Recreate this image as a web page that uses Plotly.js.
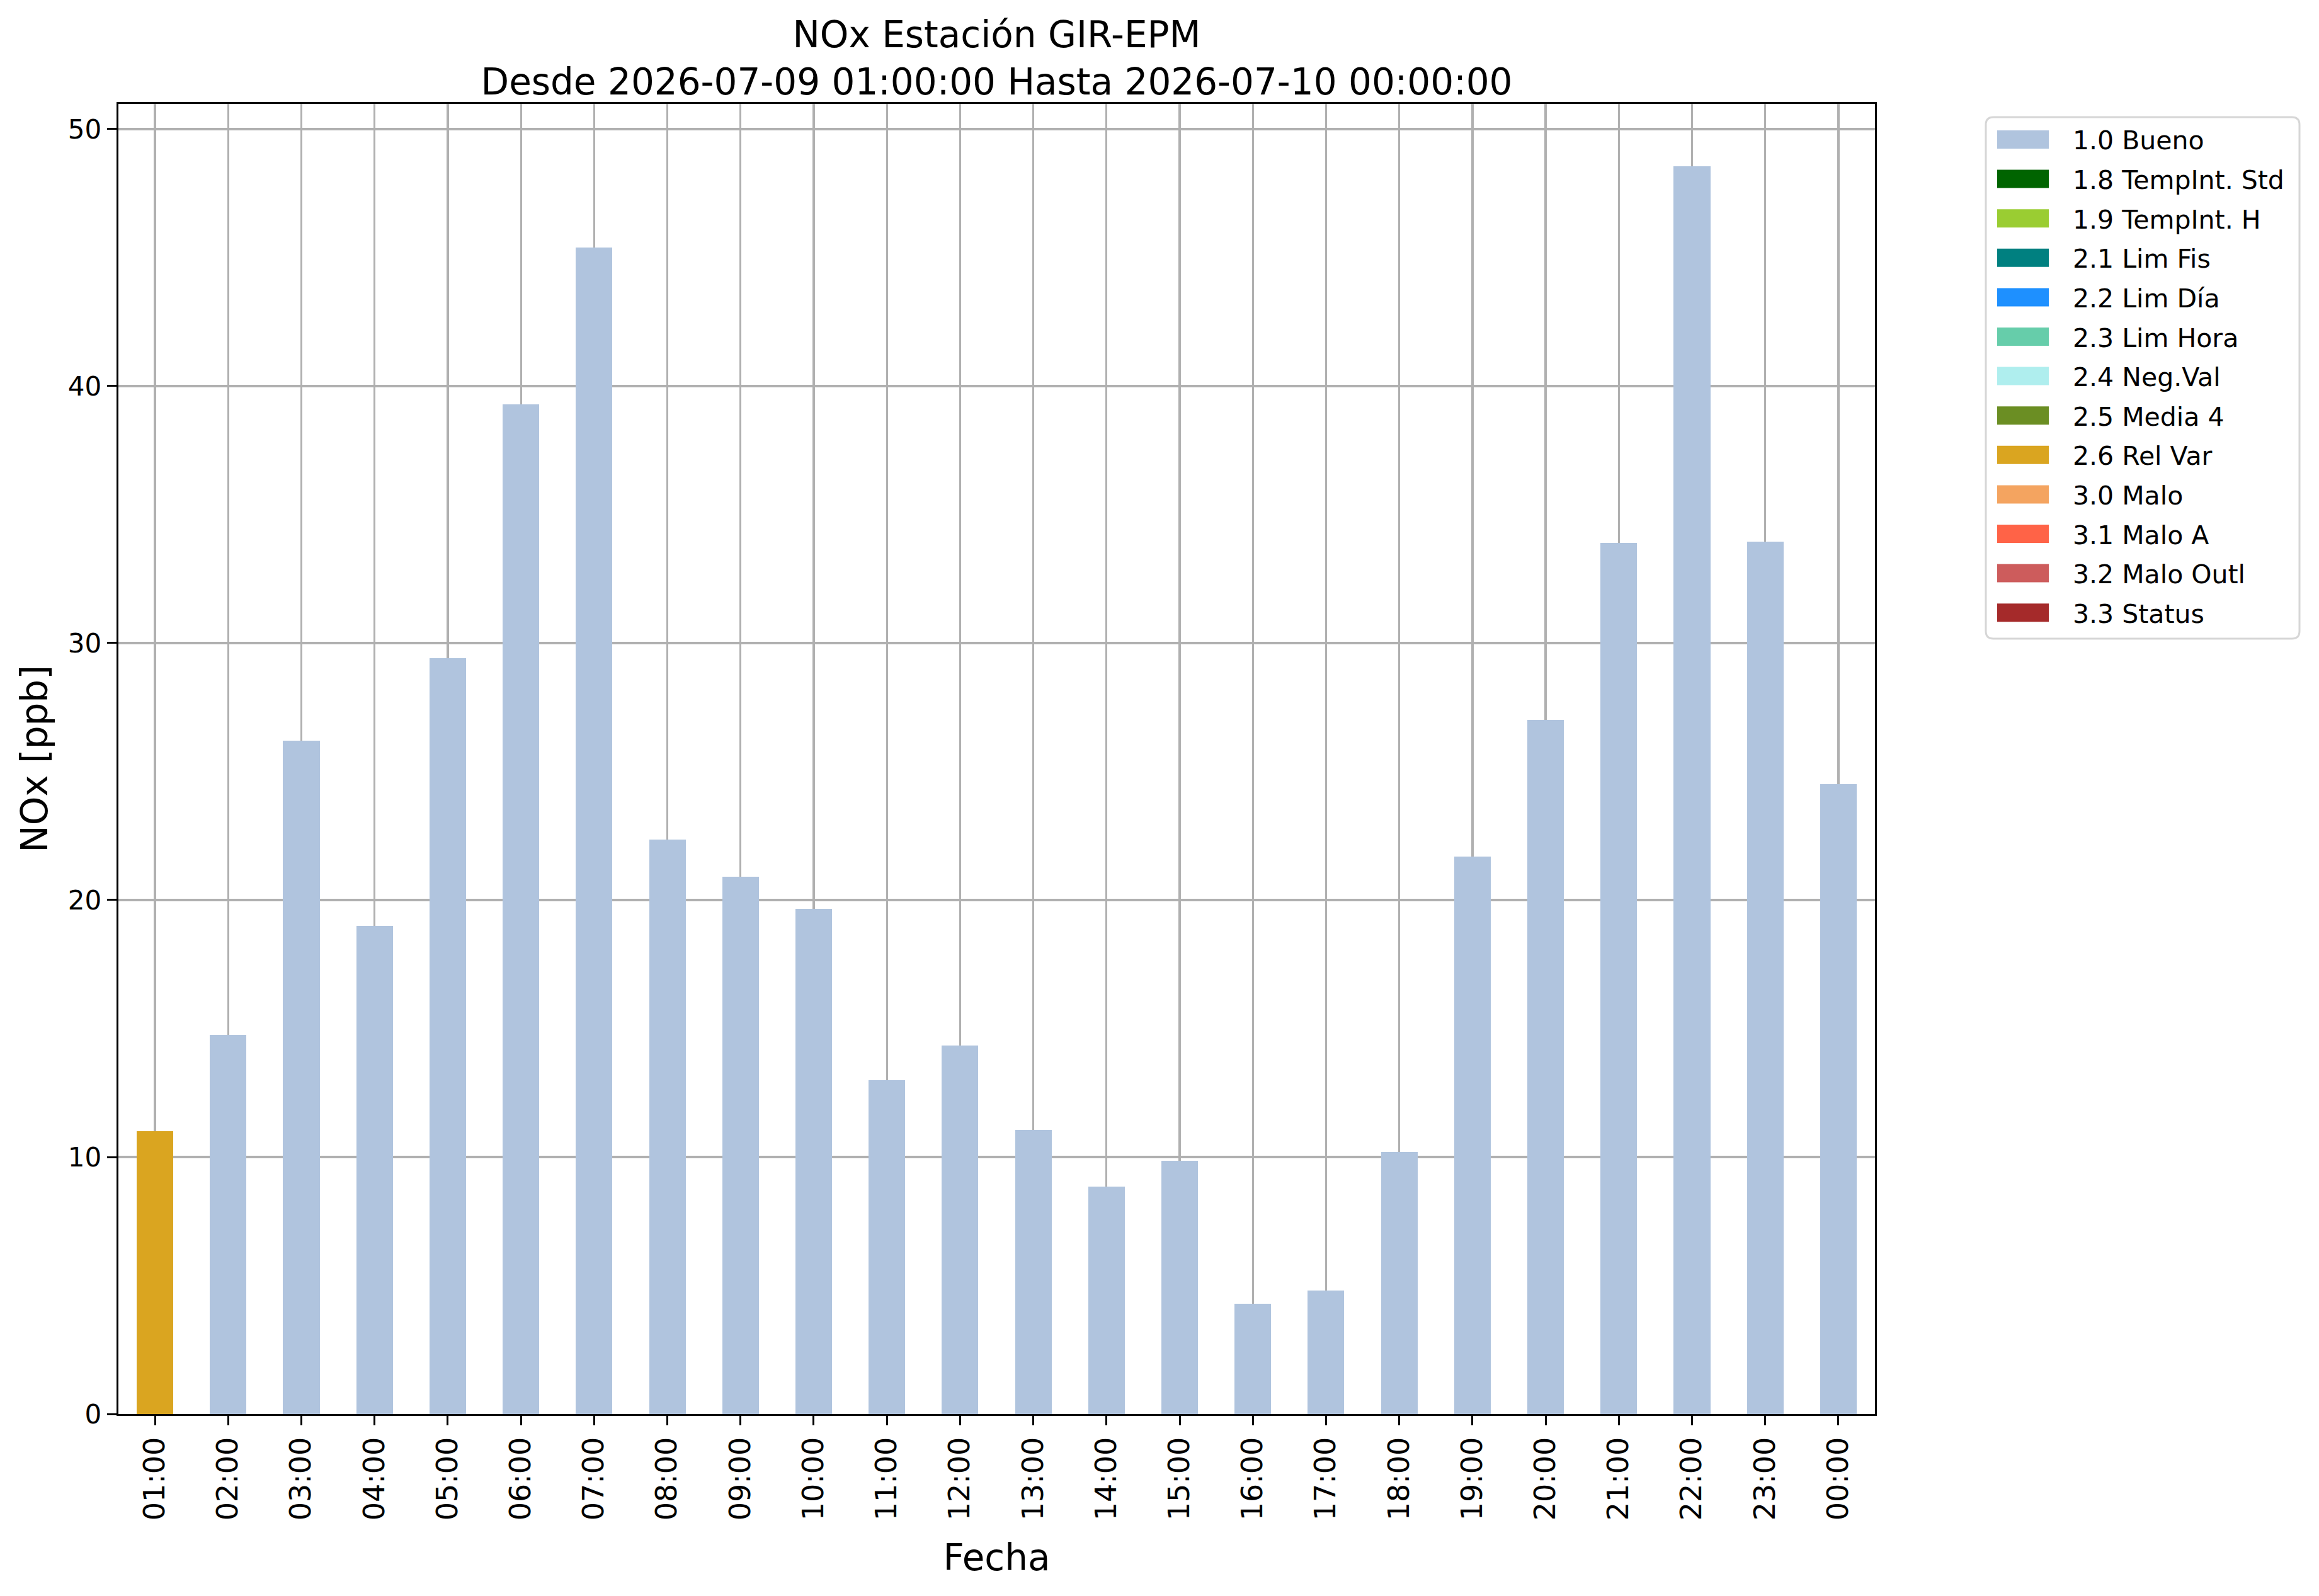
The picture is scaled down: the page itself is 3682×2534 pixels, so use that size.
<!DOCTYPE html>
<html>
<head>
<meta charset="utf-8">
<script src="https://cdn.plot.ly/plotly-3.0.1.min.js"></script>
<style>
  html, body { margin: 0; padding: 0; background: #ffffff; }
</style>
</head>
<body>
<div id="chart" style="width:3682px;height:2534px;"></div>
<script>
// horas del periodo
const hours = ['01:00', '02:00', '03:00', '04:00', '05:00', '06:00', '07:00', '08:00',
  '09:00', '10:00', '11:00', '12:00', '13:00', '14:00', '15:00', '16:00',
  '17:00', '18:00', '19:00', '20:00', '21:00', '22:00', '23:00', '00:00'];

// NOx [ppb]
const nox = [11.0, 14.75, 26.2, 19.0, 29.4, 39.3, 45.4, 22.35,
  20.9, 19.65, 13.0, 14.35, 11.05, 8.85, 9.85, 4.3,
  4.8, 10.2, 21.7, 27.0, 33.9, 48.55, 33.95, 24.5];

// bandera de calidad por hora
const flags = ['2.6 Rel Var', '1.0 Bueno', '1.0 Bueno', '1.0 Bueno', '1.0 Bueno', '1.0 Bueno',
  '1.0 Bueno', '1.0 Bueno', '1.0 Bueno', '1.0 Bueno', '1.0 Bueno', '1.0 Bueno',
  '1.0 Bueno', '1.0 Bueno', '1.0 Bueno', '1.0 Bueno', '1.0 Bueno', '1.0 Bueno',
  '1.0 Bueno', '1.0 Bueno', '1.0 Bueno', '1.0 Bueno', '1.0 Bueno', '1.0 Bueno'];

const flagNames = ['1.0 Bueno', '1.8 TempInt. Std', '1.9 TempInt. H', '2.1 Lim Fis', '2.2 Lim Día',
  '2.3 Lim Hora', '2.4 Neg.Val', '2.5 Media 4', '2.6 Rel Var', '3.0 Malo', '3.1 Malo A',
  '3.2 Malo Outl', '3.3 Status'];
const flagColors = ['#B0C4DE', '#006400', '#9ACD32', '#008080', '#1E90FF',
  '#66CDAA', '#AFEEEE', '#6B8E23', '#DAA520', '#F4A460', '#FF6347',
  '#CD5C5C', '#A52A2A'];

const yTicks = [0, 10, 20, 30, 40, 50];

const FONT = 'DejaVu Sans, Liberation Sans, sans-serif';
const W = 3682, H = 2534;
const PLOT = { l: 188, r: 2977, t: 165, b: 2245 };

// barras apiladas, una traza por bandera (como pandas plot.bar stacked)
const traces = flagNames.map((name, i) => ({
  type: 'bar',
  name,
  x: hours,
  y: nox.map((v, k) => (flags[k] === name ? v : null)),
  marker: { color: flagColors[i], line: { width: 0 } },
  showlegend: false,
  hoverinfo: 'x+y+name',
}));

// leyenda estilo matplotlib con rectangulos anchos
const px2x = (px) => (px - PLOT.l) / (PLOT.r - PLOT.l);
const px2y = (py) => (PLOT.b - py) / (PLOT.b - PLOT.t);

const legendBox = { l: 3153, r: 3651, t: 186, b: 1014 };
const rad = 12;
const boxPath = [
  `M${px2x(legendBox.l + rad)},${px2y(legendBox.t)}`,
  `L${px2x(legendBox.r - rad)},${px2y(legendBox.t)}`,
  `Q${px2x(legendBox.r)},${px2y(legendBox.t)} ${px2x(legendBox.r)},${px2y(legendBox.t + rad)}`,
  `L${px2x(legendBox.r)},${px2y(legendBox.b - rad)}`,
  `Q${px2x(legendBox.r)},${px2y(legendBox.b)} ${px2x(legendBox.r - rad)},${px2y(legendBox.b)}`,
  `L${px2x(legendBox.l + rad)},${px2y(legendBox.b)}`,
  `Q${px2x(legendBox.l)},${px2y(legendBox.b)} ${px2x(legendBox.l)},${px2y(legendBox.b - rad)}`,
  `L${px2x(legendBox.l)},${px2y(legendBox.t + rad)}`,
  `Q${px2x(legendBox.l)},${px2y(legendBox.t)} ${px2x(legendBox.l + rad)},${px2y(legendBox.t)}`,
  'Z',
].join(' ');

const shapes = [{
  type: 'path', xref: 'paper', yref: 'paper', path: boxPath,
  fillcolor: 'rgba(255,255,255,0.8)', line: { color: '#d6d6d6', width: 3 },
}];
const annotations = [];

flagNames.forEach((name, i) => {
  const cy = 221.5 + i * 62.6;
  shapes.push({
    type: 'rect', xref: 'paper', yref: 'paper',
    x0: px2x(3171), x1: px2x(3253), y0: px2y(cy - 14.5), y1: px2y(cy + 14.5),
    fillcolor: flagColors[i], line: { width: 0 },
  });
  annotations.push({
    xref: 'paper', yref: 'paper', x: px2x(3289), y: px2y(cy + 2),
    xanchor: 'left', yanchor: 'middle', showarrow: false,
    text: name, font: { family: FONT, size: 41, color: '#000000' },
  });
});

const axisCommon = {
  showline: true, mirror: true, linecolor: '#000000', linewidth: 3.3,
  ticks: 'outside', ticklen: 15, tickwidth: 3, tickcolor: '#000000',
  showgrid: true, gridcolor: '#b0b0b0', gridwidth: 3.3,
  zeroline: false, layer: 'above traces',
};

const layout = {
  width: W,
  height: H,
  margin: { l: PLOT.l, r: W - PLOT.r, t: PLOT.t, b: H - PLOT.b, pad: 0 },
  paper_bgcolor: '#ffffff',
  plot_bgcolor: '#ffffff',
  font: { family: FONT, color: '#000000' },
  barmode: 'stack',
  bargap: 0.5,
  showlegend: false,
  title: {
    text: 'NOx Estación GIR-EPM<br>Desde 2026-07-09 01:00:00 Hasta 2026-07-10 00:00:00',
    font: { family: FONT, size: 58, color: '#000000' },
    xref: 'paper', x: 0.5, xanchor: 'center',
    yref: 'container', y: 1 - 75 / H, yanchor: 'top',
  },
  xaxis: Object.assign({}, axisCommon, {
    type: 'category',
    range: [-0.5, hours.length - 0.5],
    tickangle: -90,
    tickfont: { family: FONT, size: 46, color: '#000000' },
    title: { text: 'Fecha', font: { family: FONT, size: 58, color: '#000000' }, standoff: 40 },
  }),
  yaxis: Object.assign({}, axisCommon, {
    range: [0, 50.98],
    tickvals: yTicks,
    ticktext: yTicks.map(String),
    tickfont: { family: FONT, size: 42, color: '#000000' },
    title: { text: 'NOx [ppb]', font: { family: FONT, size: 58, color: '#000000' }, standoff: 14 },
  }),
  shapes,
  annotations,
};

Plotly.newPlot('chart', traces, layout, { displayModeBar: false, staticPlot: true });
</script>
</body>
</html>
